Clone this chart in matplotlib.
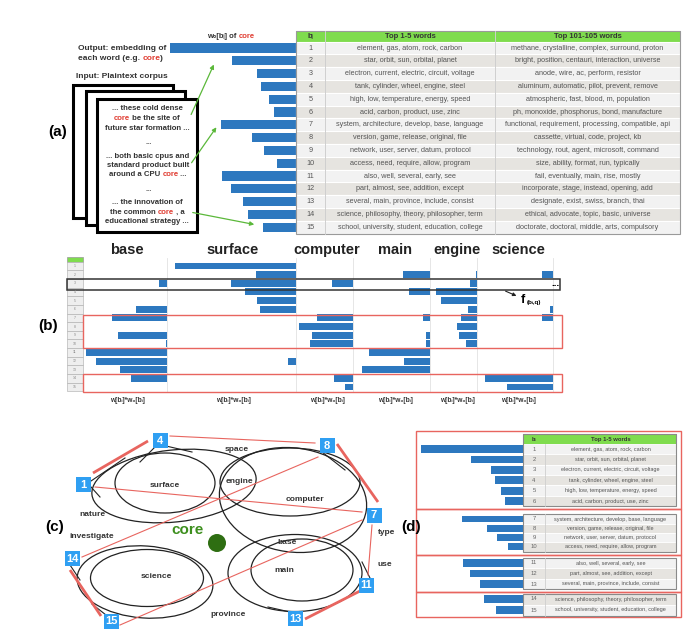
import numpy as np
import matplotlib
matplotlib.use('Agg')
import matplotlib.pyplot as plt
from matplotlib.patches import Rectangle, Ellipse, Circle

plt.rcParams['font.family'] = ['Liberation Sans', 'DejaVu Sans']

# ---- data ----
rows = np.arange(1, 16)
core_w = [126, 64, 39, 35, 27, 22, 75, 44, 32, 19, 74, 65, 53, 48, 33]

top_1_5 = [
    'element, gas, atom, rock, carbon',
    'star, orbit, sun, orbital, planet',
    'electron, current, electric, circuit, voltage',
    'tank, cylinder, wheel, engine, steel',
    'high, low, temperature, energy, speed',
    'acid, carbon, product, use, zinc',
    'system, architecture, develop, base, language',
    'version, game, release, original, file',
    'network, user, server, datum, protocol',
    'access, need, require, allow, program',
    'also, well, several, early, see',
    'part, almost, see, addition, except',
    'several, main, province, include, consist',
    'science, philosophy, theory, philosopher, term',
    'school, university, student, education, college',
]
top_101_105 = [
    'methane, crystalline, complex, surround, proton',
    'bright, position, centauri, interaction, universe',
    'anode, wire, ac, perform, resistor',
    'aluminum, automatic, pilot, prevent, remove',
    'atmospheric, fast, blood, m, population',
    'ph, monoxide, phosphorus, bond, manufacture',
    'functional, requirement, processing, compatible, api',
    'cassette, virtual, code, project, kb',
    'technology, rout, agent, microsoft, command',
    'size, ability, format, run, typically',
    'fail, eventually, main, rise, mostly',
    'incorporate, stage, instead, opening, add',
    'designate, exist, swiss, branch, thai',
    'ethical, advocate, topic, basic, universe',
    'doctorate, doctoral, middle, arts, compulsory',
]

query_words = ['base', 'surface', 'computer', 'main', 'engine', 'science']
prod_w = {
    'base':     [0, 0, 8, 0, 0, 31, 55, 0, 49, 1, 81, 71, 47, 36, 0],
    'surface':  [121, 40, 65, 51, 39, 36, 0, 0, 0, 0, 0, 8, 0, 0, 0],
    'computer': [0, 0, 21, 0, 0, 0, 36, 54, 41, 43, 0, 0, 0, 19, 8],
    'main':     [0, 27, 0, 21, 0, 0, 7, 0, 4, 4, 61, 26, 68, 0, 0],
    'engine':   [0, 1, 7, 41, 36, 9, 16, 20, 18, 11, 0, 0, 0, 0, 0],
    'science':  [0, 11, 0, 0, 0, 3, 11, 0, 0, 0, 0, 0, 0, 68, 46],
}

words_c = ['surface', 'engine', 'computer', 'base', 'main', 'science']
context_c = ['space', 'nature', 'investigate', 'type', 'use', 'province']
topic_ids = [1, 4, 8, 7, 14, 11, 13, 15]
groups_d = [[1, 2, 3, 4, 5, 6], [7, 8, 9, 10], [11, 12, 13], [14, 15]]

# ---- layout helpers (pixel coordinates, origin top-left) ----
W, H = 700, 644
fig = plt.figure(figsize=(7, 6.44), dpi=100)
BLUE = '#2d78bf'
RED = '#e8655f'
GREEN_H = '#7fdc4e'


def px_axes(x0, y0, x1, y1):
    a = fig.add_axes([x0 / W, 1 - y1 / H, (x1 - x0) / W, (y1 - y0) / H])
    a.set_axis_off()
    a.patch.set_alpha(0)
    return a


def bars_left(x0, y0, x1, y1, idx, vals, height=0.72):
    a = px_axes(x0, y0, x1, y1)
    a.barh(idx, vals, height=height, color=BLUE)
    a.set_xlim(x1 - x0, 0)
    a.set_ylim(idx[-1] + 0.5, idx[0] - 0.5)
    return a


# (a) bars: rows centred 48 .. 227
bars_left(160, 41.6, 296, 233.6, rows, core_w)

# (b) bars per query word
col_edges = [83, 167, 296, 353, 430, 477, 553]
for i, w in enumerate(query_words):
    bars_left(col_edges[i], 261.7, col_edges[i + 1], 391.3, rows, prod_w[w], height=0.8)

# (d) bars per group
d_rows = [(449, 10.4), (519, 9.33), (563, 10.5), (599, 11.0)]
for g, (c0, sp) in zip(groups_d, d_rows):
    n = len(g)
    vals = [core_w[k - 1] * 0.81 for k in g]
    bars_left(416, c0 - sp / 2, 523, c0 + sp * (n - 0.5), np.array(g), vals, height=0.75)

# overlay for everything else
ax = px_axes(0, 0, W, H)
ax.set_xlim(0, W)
ax.set_ylim(H, 0)


def multicolor(x, y, parts, size, weight='normal', ha='left'):
    t = ax.text(x, y, parts[0][0], color=parts[0][1], fontsize=size,
                fontweight=weight, va='bottom', ha=ha)
    for s, c in parts[1:]:
        t = ax.annotate(s, xy=(1, 0), xycoords=t, va='bottom', color=c,
                        fontsize=size, fontweight=weight)
    return t


# ---------- panel (a) ----------
ax.text(58, 132, '(a)', fontsize=11, fontweight='bold', ha='center', va='center')
multicolor(207, 40, [('w\u2080[b\u1d62] of ', '#333333'), ('core', '#e03c31')], 5.5, 'bold')
multicolor(78, 52, [('Output: embedding of', '#333333')], 6, 'bold')
multicolor(78, 61.5, [('each word (e.g. ', '#333333'), ('core', '#e03c31'), (')', '#333333')], 6, 'bold')
ax.text(76, 76, 'Input: Plaintext corpus', fontsize=6, fontweight='bold',
        color='#333333', va='center')

for (x0, y0, x1, y1) in [(73, 85, 173, 218), (86, 91, 185, 225), (97, 99, 197, 232)]:
    ax.add_patch(Rectangle((x0, y0), x1 - x0, y1 - y0, facecolor='white',
                           edgecolor='black', lw=2.2))

doc_lines = [
    (108, [('... these cold dense', '#333333')]),
    (118, [('core', '#e03c31'), (' be the site of', '#333333')]),
    (128, [('future star formation ...', '#333333')]),
    (142, [('...', '#333333')]),
    (156, [('... both basic cpus and', '#333333')]),
    (165, [('standard product built', '#333333')]),
    (174, [('around a CPU ', '#333333'), ('core', '#e03c31'), (' ...', '#333333')]),
    (189, [('...', '#333333')]),
    (202, [('... the innovation of', '#333333')]),
    (212, [('the common ', '#333333'), ('core', '#e03c31'), (' , a', '#333333')]),
    (221, [('educational strategy ...', '#333333')]),
]
doc_x = {108: 112, 118: 114, 128: 105, 142: 145, 156: 106, 165: 107, 174: 109,
         189: 145, 202: 112, 212: 110, 221: 105}
for y, parts in doc_lines:
    multicolor(doc_x[y], y + 4, parts, 5.6, 'bold')

for (xa, ya, xb, yb) in [(190, 117, 215, 62), (190, 165, 218, 125), (190, 212, 257, 225)]:
    ax.annotate('', xy=(xb, yb), xytext=(xa, ya),
                arrowprops=dict(arrowstyle='-|>', color='#5bb83a', lw=0.9,
                                mutation_scale=6))

# table (a)
tx = [296, 325, 495, 680]
hdr_top, hdr_bot, rh = 31, 41.6, 12.8
ax.add_patch(Rectangle((tx[0], hdr_top), tx[3] - tx[0], hdr_bot - hdr_top,
                       facecolor=GREEN_H, edgecolor='#9a9a9a', lw=0.6))
for j, lab in enumerate(['b\u1d62', 'Top 1-5 words', 'Top 101-105 words']):
    ax.text((tx[j] + tx[j + 1]) / 2, (hdr_top + hdr_bot) / 2, lab, fontsize=5.5,
            fontweight='bold', color='#333333', ha='center', va='center')
for i in range(15):
    y0 = hdr_bot + i * rh
    fc = '#f2f2f2' if i % 2 == 0 else '#e6e4e0'
    ax.add_patch(Rectangle((tx[0], y0), tx[3] - tx[0], rh, facecolor=fc,
                           edgecolor='white', lw=0.8))
    cells = [str(rows[i]), top_1_5[i], top_101_105[i]]
    for j, s in enumerate(cells):
        ax.text((tx[j] + tx[j + 1]) / 2, y0 + rh / 2, s, fontsize=5.2,
                color='#555555', ha='center', va='center')
for xv in tx[1:3]:
    ax.plot([xv, xv], [hdr_top, hdr_bot + 15 * rh], color='#cfcfcf', lw=0.7)
ax.add_patch(Rectangle((tx[0], hdr_top), tx[3] - tx[0], hdr_bot + 15 * rh - hdr_top,
                       facecolor='none', edgecolor='#9a9a9a', lw=0.8))

# ---------- panel (b) ----------
ax.text(48, 326, '(b)', fontsize=11, fontweight='bold', ha='center', va='center')
title_x = [127, 233, 327, 395, 457, 518]
for w, x in zip(query_words, title_x):
    ax.text(x, 250, w, fontsize=10.5, fontweight='bold', color='#222222',
            ha='center', va='center')
    ax.text(x, 400, 'w[b\u1d62]*w\u2080[b\u1d62]', fontsize=4.8, fontweight='bold',
            color='#333333', ha='center', va='center')
for xv in col_edges[1:]:
    ax.plot([xv, xv], [258, 392], color='#e2e2e2', lw=0.6, zorder=0)

rb = 8.64
ax.add_patch(Rectangle((67, 257), 16, 4.7, facecolor=GREEN_H, edgecolor='#999999', lw=0.5))
for i in range(15):
    y0 = 261.7 + i * rb
    ax.add_patch(Rectangle((67, y0), 16, rb, facecolor='#eeeeee', edgecolor='#aaaaaa', lw=0.4))
    ax.text(75, y0 + rb / 2, str(rows[i]), fontsize=2.5, color='#888888',
            ha='center', va='center')

ax.add_patch(Rectangle((67, 279), 493, 10.5, facecolor='none', edgecolor='#333333', lw=1.1))
ax.add_patch(Rectangle((83, 315), 479, 33, facecolor='none', edgecolor=RED, lw=1.0))
ax.add_patch(Rectangle((83, 374), 479, 18, facecolor='none', edgecolor=RED, lw=1.0))
ax.text(555, 283, '...', fontsize=7, fontweight='bold', ha='center', va='center')
ax.annotate('', xy=(519, 297), xytext=(503, 290),
            arrowprops=dict(arrowstyle='-|>', color='#222222', lw=0.8, mutation_scale=5))
ax.text(521, 300, r'f', fontsize=9, fontweight='bold', va='center')
ax.text(527, 302, '(b\u1d62,q)', fontsize=4.5, fontweight='bold', va='center')

# ---------- panel (c) ----------
ax.text(55, 527, '(c)', fontsize=11, fontweight='bold', ha='center', va='center')
ellipses = [
    (165, 483, 100, 60, 0), (174, 486, 165, 72, -6),
    (290, 482, 140, 68, 0), (293, 500, 148, 104, 8),
    (302, 570, 102, 62, 0), (295, 573, 134, 77, 0),
    (147, 578, 113, 57, 0), (145, 582, 136, 72, 4),
]
for cx, cy, ew, eh, ang in ellipses:
    ax.add_patch(Ellipse((cx, cy), ew, eh, angle=ang, facecolor='none',
                         edgecolor='#222222', lw=0.9))

# short black links from topic squares onto the ellipses
links = [((91, 481), (125, 458)), ((91, 487), (100, 497)), ((155, 447), (140, 462)),
         ((166, 446), (192, 452)), ((322, 452), (345, 470)), ((290, 612), (268, 607)),
         ((106, 615), (92, 604)), ((370, 578), (362, 562)), ((70, 565), (80, 580))]
for p, q in links:
    ax.plot([p[0], q[0]], [p[1], q[1]], color='#222222', lw=0.8)

# thick / thin red connections
thick = [((93, 473), (148, 441)), ((337, 444), (378, 502)),
         ((360, 591), (305, 619)), ((70, 570), (101, 616))]
thin = [((170, 436), (315, 443)), ((372, 525), (368, 575)),
        ((95, 487), (362, 512)), ((82, 557), (318, 457)), ((120, 625), (362, 520))]
for p, q in thick:
    ax.plot([p[0], q[0]], [p[1], q[1]], color=RED, lw=2.0, solid_capstyle='butt')
for p, q in thin:
    ax.plot([p[0], q[0]], [p[1], q[1]], color=RED, lw=0.8)

word_pos = [(165, 485), (239, 481), (305, 499), (287, 543), (284, 571), (156, 577)]
for w, (x, y) in zip(words_c, word_pos):
    ax.text(x, y, w, fontsize=6, fontweight='bold', color='#333333', ha='center', va='center')
ctx_pos = [(237, 449), (92, 514), (92, 536), (387, 532), (385, 565), (228, 614)]
for w, (x, y) in zip(context_c, ctx_pos):
    ax.text(x, y, w, fontsize=6, fontweight='bold', color='#333333', ha='center', va='center')

ax.text(188, 530, 'core', fontsize=11, fontweight='bold', color='#3d8f1e',
        ha='center', va='center')
ax.add_patch(Circle((217, 543), 9, facecolor='#2e6e12', edgecolor='none'))

sq_pos = [(83, 484), (160, 440), (327, 445), (374, 515), (72, 558), (366, 585),
          (295, 618), (111, 621)]
for k, (x, y) in zip(topic_ids, sq_pos):
    ax.add_patch(Rectangle((x - 7.5, y - 7.5), 15, 15, facecolor='#2f9ff2',
                           edgecolor='none', zorder=5))
    ax.text(x, y + 0.5, str(k), fontsize=8, fontweight='bold', color='white',
            ha='center', va='center', zorder=6)

# ---------- panel (d) ----------
ax.text(411, 527, '(d)', fontsize=11, fontweight='bold', ha='center', va='center')
group_box = [(431, 509), (509, 555), (555, 592), (592, 617)]
for y0, y1 in group_box:
    ax.add_patch(Rectangle((416, y0), 265, y1 - y0, facecolor='none', edgecolor=RED, lw=1.0))

dx = [523, 545, 676]
ax.add_patch(Rectangle((dx[0], 434), dx[2] - dx[0], 9.8, facecolor=GREEN_H,
                       edgecolor='#999999', lw=0.5))
ax.text((dx[0] + dx[1]) / 2, 439, 'b\u1d62', fontsize=4.2, fontweight='bold',
        color='#333333', ha='center', va='center')
ax.text((dx[1] + dx[2]) / 2, 439, 'Top 1-5 words', fontsize=4.2, fontweight='bold',
        color='#333333', ha='center', va='center')
for g, (c0, sp) in zip(groups_d, d_rows):
    top = c0 - sp / 2
    for n, k in enumerate(g):
        y0 = top + n * sp
        fc = '#f2f2f2' if k % 2 == 1 else '#e6e4e0'
        ax.add_patch(Rectangle((dx[0], y0), dx[2] - dx[0], sp, facecolor=fc,
                               edgecolor='white', lw=0.6))
        ax.text((dx[0] + dx[1]) / 2, y0 + sp / 2, str(k), fontsize=4.2,
                color='#666666', ha='center', va='center')
        ax.text((dx[1] + dx[2]) / 2, y0 + sp / 2, top_1_5[k - 1], fontsize=4.0,
                color='#555555', ha='center', va='center')
    ax.plot([dx[1], dx[1]], [top, top + len(g) * sp], color='#cfcfcf', lw=0.6)
    y_start = 434 if g[0] == 1 else top
    ax.add_patch(Rectangle((dx[0], y_start), dx[2] - dx[0], top + len(g) * sp - y_start,
                           facecolor='none', edgecolor='#8a8a8a', lw=0.8))

fig.savefig('out.png', dpi=100, facecolor='white')
